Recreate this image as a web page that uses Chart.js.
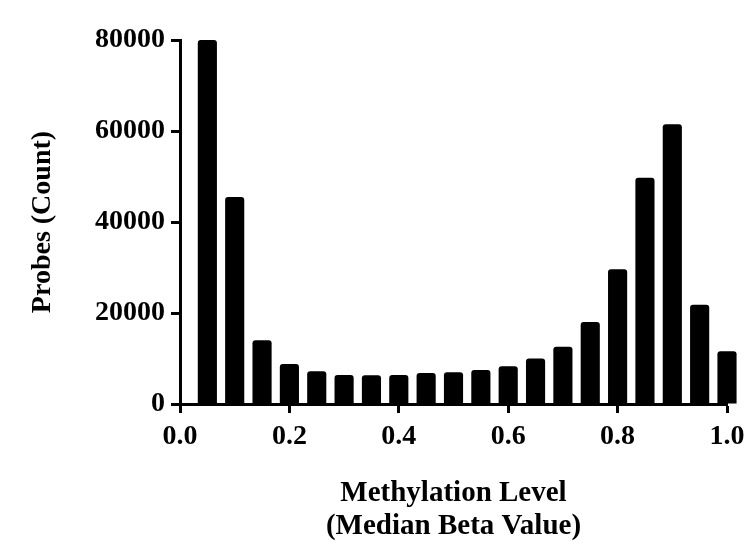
<!DOCTYPE html>
<html>
<head>
<meta charset="utf-8">
<script src="https://cdn.jsdelivr.net/npm/chart.js@4"></script>
<style>
  html, body { margin: 0; padding: 0; background: #fff; }
  #wrap { width: 744px; height: 557px; }
</style>
</head>
<body>
<div id="wrap"><canvas id="myChart" width="744" height="557"></canvas></div>
<script>
// bins (centre of each 0.05 wide bin) and counts
const binCenters = [0.05, 0.10, 0.15, 0.20, 0.25, 0.30, 0.35, 0.40, 0.45, 0.50,
                    0.55, 0.60, 0.65, 0.70, 0.75, 0.80, 0.85, 0.90, 0.95, 1.00];
const probeCounts = [80000, 45500, 14000, 8800, 7200, 6400, 6300, 6400, 6800, 7000,
                     7500, 8300, 10000, 12600, 18000, 29600, 49700, 61500, 21800, 11600];
const xTicks = [0.0, 0.2, 0.4, 0.6, 0.8, 1.0];
const yTicks = [0, 20000, 40000, 60000, 80000];

const serif = '"Liberation Serif", "Times New Roman", serif';

const ctx = document.getElementById('myChart').getContext('2d');
new Chart(ctx, {
  type: 'bar',
  data: {
    datasets: [{
      data: binCenters.map((x, i) => ({ x: x, y: probeCounts[i] })),
      backgroundColor: '#000',
      borderRadius: 3,
      borderSkipped: 'bottom',
      categoryPercentage: 1,
      barPercentage: 0.7,
      clip: false
    }]
  },
  options: {
    responsive: false,
    animation: false,
    layout: { padding: { top: 40, right: 17, left: 0, bottom: 0 } },
    plugins: { legend: { display: false }, tooltip: { enabled: false } },
    scales: {
      x: {
        type: 'linear',
        min: 0, max: 1,
        offset: false,
        afterBuildTicks: s => { s.ticks = xTicks.map(v => ({ value: v })); },
        afterFit: s => { s.height = 153; s.paddingRight = 0; }, // "1.0" runs off the edge like in the figure
        ticks: {
          color: '#000',
          font: { family: serif, size: 28, weight: 'bold' },
          padding: 7,
          maxRotation: 0,
          callback: v => v.toFixed(1)
        },
        grid: { offset: false, drawOnChartArea: false, tickLength: 9, tickWidth: 3, tickColor: '#000' },
        border: { color: '#000', width: 3 },
        title: {
          display: true,
          text: ['Methylation Level', '(Median Beta Value)'],
          color: '#000',
          font: { family: serif, size: 29, weight: 'bold', lineHeight: 1.14 },
          padding: { top: 20, bottom: 14 }
        }
      },
      y: {
        min: 0, max: 80000,
        afterBuildTicks: s => { s.ticks = yTicks.map(v => ({ value: v })); },
        afterFit: s => { s.width = 180; },
        ticks: {
          color: '#000',
          font: { family: serif, size: 28, weight: 'bold' },
          padding: 6,
          callback: v => String(v)
        },
        grid: { drawOnChartArea: false, tickLength: 9, tickWidth: 3, tickColor: '#000' },
        border: { color: '#000', width: 3 },
        title: {
          display: true,
          text: 'Probes (Count)',
          color: '#000',
          font: { family: serif, size: 28, weight: 'bold', lineHeight: 1.2 },
          padding: { top: 26, bottom: 10 }
        }
      }
    }
  }
});
</script>
</body>
</html>
